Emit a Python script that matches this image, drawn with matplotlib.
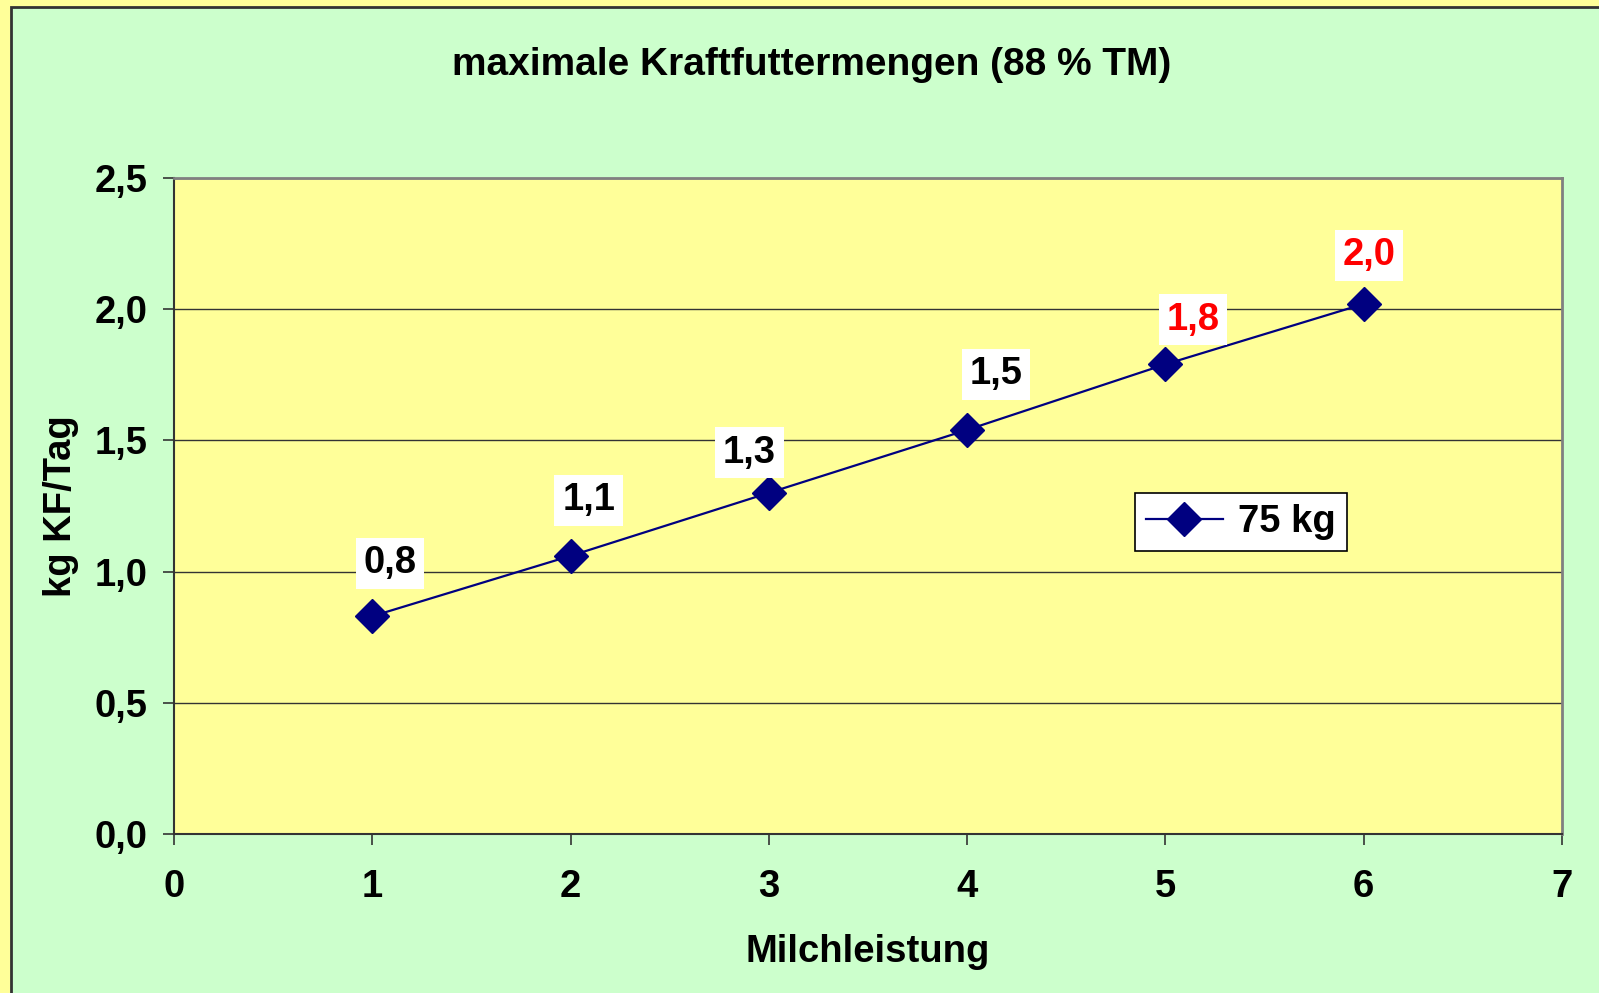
import matplotlib
matplotlib.use("Agg")
import matplotlib.pyplot as plt
from matplotlib.patches import Rectangle
from matplotlib.lines import Line2D

plt.rcParams['font.family'] = ['Liberation Sans', 'DejaVu Sans']
plt.rcParams['font.weight'] = 'bold'

# data
milchleistung = [1, 2, 3, 4, 5, 6]
kf_menge = [0.83, 1.06, 1.30, 1.54, 1.79, 2.02]
value_labels = ["0,8", "1,1", "1,3", "1,5", "1,8", "2,0"]
label_colors = ["black", "black", "black", "black", "red", "red"]
x_ticks = [0, 1, 2, 3, 4, 5, 6, 7]
y_ticks = [0.0, 0.5, 1.0, 1.5, 2.0, 2.5]
y_ticklabels = ["0,0", "0,5", "1,0", "1,5", "2,0", "2,5"]
series_name = "75 kg"
title = "maximale Kraftfuttermengen (88 % TM)"

# label offsets in points (manually placed labels in the original)
label_offsets = [(13, 38), (13, 40), (-14, 29), (21, 40), (20, 32), (4, 35)]

FS = 27.5
W, H = 1599, 993
fig = plt.figure(figsize=(W / 100, H / 100), dpi=100)
fig.patch.set_facecolor('#FFFF99')

# green chart area with dark frame
fig.patches.append(Rectangle((11 / W, -0.01), 1.0, 1 - 7 / H + 0.01,
                             transform=fig.transFigure, facecolor='#CCFFCC',
                             edgecolor='#333333', lw=2, zorder=-5))

ax = fig.add_axes([174 / W, 1 - 834 / H, (1562 - 174) / W, (834 - 178) / H])
ax.set_zorder(2)
ax.set_facecolor('#FFFF99')

ax.plot(milchleistung, kf_menge, color='#000080', lw=1.6, marker='D',
        ms=17, mec='#000080', mfc='#000080', zorder=3)

for x, y, txt, c, off in zip(milchleistung, kf_menge, value_labels,
                             label_colors, label_offsets):
    ax.annotate(txt, (x, y), xytext=off, textcoords='offset points',
                ha='center', va='center', fontsize=FS, fontweight='bold',
                color=c, zorder=4,
                bbox=dict(boxstyle='square,pad=0.2', fc='white', ec='none'))

ax.set_xlim(0, 7)
ax.set_ylim(0, 2.5)
ax.set_xticks(x_ticks)
ax.set_xticklabels([str(t) for t in x_ticks])
ax.set_yticks(y_ticks)
ax.set_yticklabels(y_ticklabels)
ax.tick_params(axis='both', labelsize=FS, length=8, width=1.2,
               direction='out', color='#333333')
ax.tick_params(axis='x', pad=17)
ax.tick_params(axis='y', pad=11)
for lab in ax.get_xticklabels() + ax.get_yticklabels():
    lab.set_fontweight('bold')

ax.grid(axis='y', color='#333333', lw=1)
ax.set_axisbelow(True)
for side in ['top', 'right']:
    ax.spines[side].set_color('#808080')
    ax.spines[side].set_linewidth(2)
for side in ['left', 'bottom']:
    ax.spines[side].set_color('#333333')
    ax.spines[side].set_linewidth(1.5)

ax.set_xlabel("Milchleistung", fontsize=FS, fontweight='bold', labelpad=21)
ax.set_ylabel("kg KF/Tag", fontsize=FS, fontweight='bold', labelpad=11)

fig.text(812 / W, 1 - 65 / H, title, ha='center', va='center',
         fontsize=28, fontweight='bold')

handle = Line2D([], [], color='#000080', lw=1.6, marker='D', ms=17,
                mfc='#000080', mec='#000080')
leg = ax.legend([handle], [series_name], loc='center',
                bbox_to_anchor=((1241 - 174) / (1562 - 174),
                                (834 - 522) / (834 - 178)),
                fontsize=FS, frameon=True, fancybox=False, framealpha=1,
                edgecolor='black', handlelength=2.0, borderpad=0.3,
                handletextpad=0.4)
leg.get_frame().set_linewidth(1.2)
for t in leg.get_texts():
    t.set_fontweight('bold')

fig.savefig("out.png", dpi=100, facecolor=fig.get_facecolor())
